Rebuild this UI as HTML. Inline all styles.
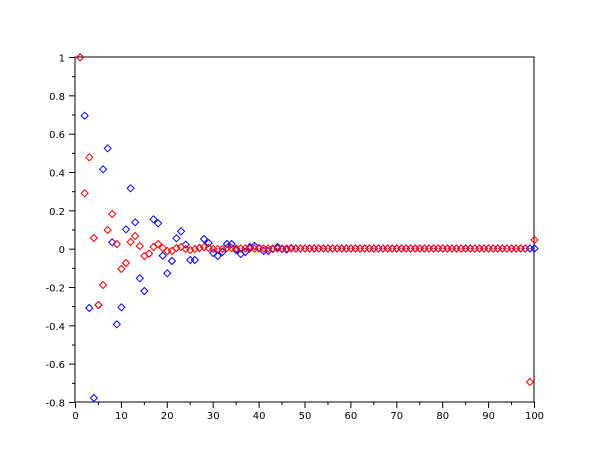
<!DOCTYPE html>
<html><head><meta charset="utf-8"><style>body{margin:0;background:#fff}svg{display:block}text{font-family:"DejaVu Sans","Liberation Sans",sans-serif;font-size:10px;fill:#000}</style></head>
<body><svg id="s" width="610" height="460" xmlns="http://www.w3.org/2000/svg">
<rect width="610" height="460" fill="#fff"/>
<g id="ax"></g><g id="pts"></g>
</svg>
<script>
const NS="http://www.w3.org/2000/svg";
const ax=document.getElementById('ax'),pts=document.getElementById('pts');
function el(p,t,a){const e=document.createElementNS(NS,t);for(const k in a)e.setAttribute(k,a[k]);p.appendChild(e);return e;}
const X0=75,X1=534,Y0=57,Y1=402;
const px=x=>X0+(X1-X0)*x/100, py=y=>Y0+(Y1-Y0)*(1-y)/1.8;
el(ax,'rect',{x:X0,y:Y0,width:X1-X0,height:Y1-Y0,fill:'none',stroke:'#000','stroke-width':1});
for(let i=0;i<=20;i++){const x=px(i*5)+0.5;el(ax,'line',{x1:x,y1:Y1,x2:x,y2:Y1+(i%2?3:6),stroke:'#000'});
 if(i%2==0){const t=el(ax,'text',{x:x,y:Y1+17,'text-anchor':'middle'});t.textContent=i*5;}}
for(let i=0;i<=18;i++){const v=1-i*0.1;const y=py(v)+0.5;el(ax,'line',{x1:X0,y1:y,x2:X0-(i%2?3:6),y2:y,stroke:'#000'});
 if(i%2==0){const t=el(ax,'text',{x:X0-10,y:y+4,'text-anchor':'end'});let s=(Math.round(v*10)/10).toString();t.textContent=s;}}
function d(x,y,c){el(pts,'path',{d:`M${x-3.5},${y}L${x},${y-3.5}L${x+3.5},${y}L${x},${y+3.5}Z`,fill:'none',stroke:c,'stroke-width':1});}
const Z=248.5;
const red={1:57.3,2:193.3,3:157.3,4:238,5:305,6:285,7:230,8:214,9:244,10:269,11:263,12:242,13:236,14:246,15:256,16:253.7,17:247,18:244,19:248,20:251,21:251,22:248,23:247,24:249,25:250,26:249,27:248,28:247,29:248,30:249,31:249,32:249,33:248,34:248,99:382,100:240};
const blue={1:57.3,2:115.7,3:308,4:398,5:305,6:169.3,7:148.3,8:242.3,9:324.3,10:307.3,11:229.3,12:188.3,13:222.3,14:278.3,15:291,16:253.7,17:219.3,18:223.3,19:255.7,20:273.3,21:261,22:238.3,23:231.3,24:244.7,25:260,26:260,27:248,28:239,29:243,30:253,31:256,32:252,33:244,34:244,35:250,36:254,37:252,38:247,39:246,40:248,41:251,42:251,43:249,44:247,45:249,46:249.5,47:248};
for(let n=1;n<=100;n++){d(px(n)+0.5,blue[n]!==undefined?blue[n]:Z,'#00f');}
for(let n=1;n<=100;n++){d(px(n)+0.5,red[n]!==undefined?red[n]:Z,'#f00');}
</script></body></html>
